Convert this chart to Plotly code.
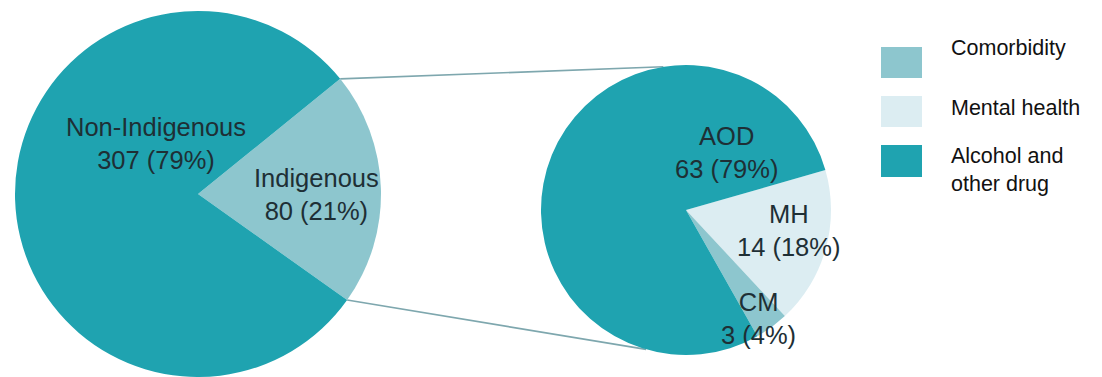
import math
import plotly.graph_objects as go

W, H = 1102, 377

# ---- data ----
outer_labels = ["Indigenous", "Non-Indigenous"]
outer_values = [80, 307]
inner_labels = ["MH", "CM", "AOD"]
inner_values = [14, 3, 63]
legend_labels = ["Comorbidity", "Mental health", "Alcohol and<br>other drug"]

# ---- style ----
TEAL = "#1fa3b0"
LIGHT = "#8dc6ce"
PALE = "#dcedf2"
outer_colors = [LIGHT, TEAL]
inner_colors = [PALE, LIGHT, TEAL]
legend_colors = [LIGHT, PALE, TEAL]
FONT = "Liberation Sans, Arial, sans-serif"
TXT = "#1e2f35"
LABEL_SIZE = 25.5
LEGEND_SIZE = 21.5

# geometry in pixels
L_CX, L_CY, L_R = 198, 194, 183
R_CX, R_CY, R_R = 686, 210, 145
L_ROT = 51
R_ROT = 74


def px(x, y):
    return x / W, 1 - y / H


def pct(v, tot):
    return int(v * 100.0 / tot + 0.5)


fig = go.Figure()

fig.add_trace(go.Pie(
    labels=outer_labels, values=outer_values, sort=False,
    direction="clockwise", rotation=L_ROT,
    marker=dict(colors=outer_colors, line=dict(width=0)),
    textinfo="none", showlegend=False,
    domain=dict(x=[(L_CX - 190) / W, (L_CX + 190) / W],
                y=[1 - (L_CY + L_R) / H, 1 - (L_CY - L_R) / H]),
))

fig.add_trace(go.Pie(
    labels=inner_labels, values=inner_values, sort=False,
    direction="clockwise", rotation=R_ROT,
    marker=dict(colors=inner_colors, line=dict(width=0)),
    textinfo="none", showlegend=False,
    domain=dict(x=[(R_CX - 150) / W, (R_CX + 150) / W],
                y=[1 - (R_CY + R_R) / H, 1 - (R_CY - R_R) / H]),
))

# connector lines
tot_o = sum(outer_values)
a1 = math.radians(L_ROT)
a2 = math.radians(L_ROT + 360.0 * outer_values[0] / tot_o)
p1 = (L_CX + L_R * math.sin(a1), L_CY - L_R * math.cos(a1))
p2 = (L_CX + L_R * math.sin(a2), L_CY - L_R * math.cos(a2))
b1 = math.radians(351)
b2 = math.radians(196)
q1 = (R_CX + R_R * math.sin(b1), R_CY - R_R * math.cos(b1))
q2 = (R_CX + R_R * math.sin(b2), R_CY - R_R * math.cos(b2))
for s, e in [(p1, q1), (p2, q2)]:
    x0, y0 = px(*s)
    x1, y1 = px(*e)
    fig.add_shape(type="line", xref="paper", yref="paper",
                  x0=x0, y0=y0, x1=x1, y1=y1, layer="below",
                  line=dict(color="#7ea7ae", width=1.6))

# slice labels
outer_pos = {"Indigenous": (316, 194), "Non-Indigenous": (156, 143)}
inner_pos = {"AOD": (727, 152), "MH": (788, 230), "CM": (758, 318)}
tot_i = sum(inner_values)
for lab, v in zip(outer_labels, outer_values):
    x, y = px(*outer_pos[lab])
    fig.add_annotation(x=x, y=y, xref="paper", yref="paper", showarrow=False,
                       xanchor="center", yanchor="middle", align="center",
                       text=f"{lab}<br>{v} ({pct(v, tot_o)}%)",
                       font=dict(family=FONT, size=LABEL_SIZE, color=TXT))
for lab, v in zip(inner_labels, inner_values):
    x, y = px(*inner_pos[lab])
    fig.add_annotation(x=x, y=y, xref="paper", yref="paper", showarrow=False,
                       xanchor="center", yanchor="middle", align="center",
                       text=f"{lab}<br>{v} ({pct(v, tot_i)}%)",
                       font=dict(family=FONT, size=LABEL_SIZE, color=TXT))

# legend
sq_y = [(47, 78), (96, 127), (145, 177)]
txt_y = [48, 108, 170]
for lab, col, (ya, yb), ty in zip(legend_labels, legend_colors, sq_y, txt_y):
    x0, y0 = px(881, yb)
    x1, y1 = px(922, ya)
    fig.add_shape(type="rect", xref="paper", yref="paper",
                  x0=x0, y0=y0, x1=x1, y1=y1,
                  fillcolor=col, line=dict(width=0))
    tx, tyy = px(949, ty)
    fig.add_annotation(x=tx, y=tyy, xref="paper", yref="paper", showarrow=False,
                       xanchor="left", yanchor="middle", align="left",
                       text=lab, font=dict(family=FONT, size=LEGEND_SIZE, color="#111111"))

fig.update_layout(
    width=W, height=H,
    margin=dict(l=0, r=0, t=0, b=0),
    paper_bgcolor="white", plot_bgcolor="white",
    showlegend=False,
)

fig.write_html("out.html")
